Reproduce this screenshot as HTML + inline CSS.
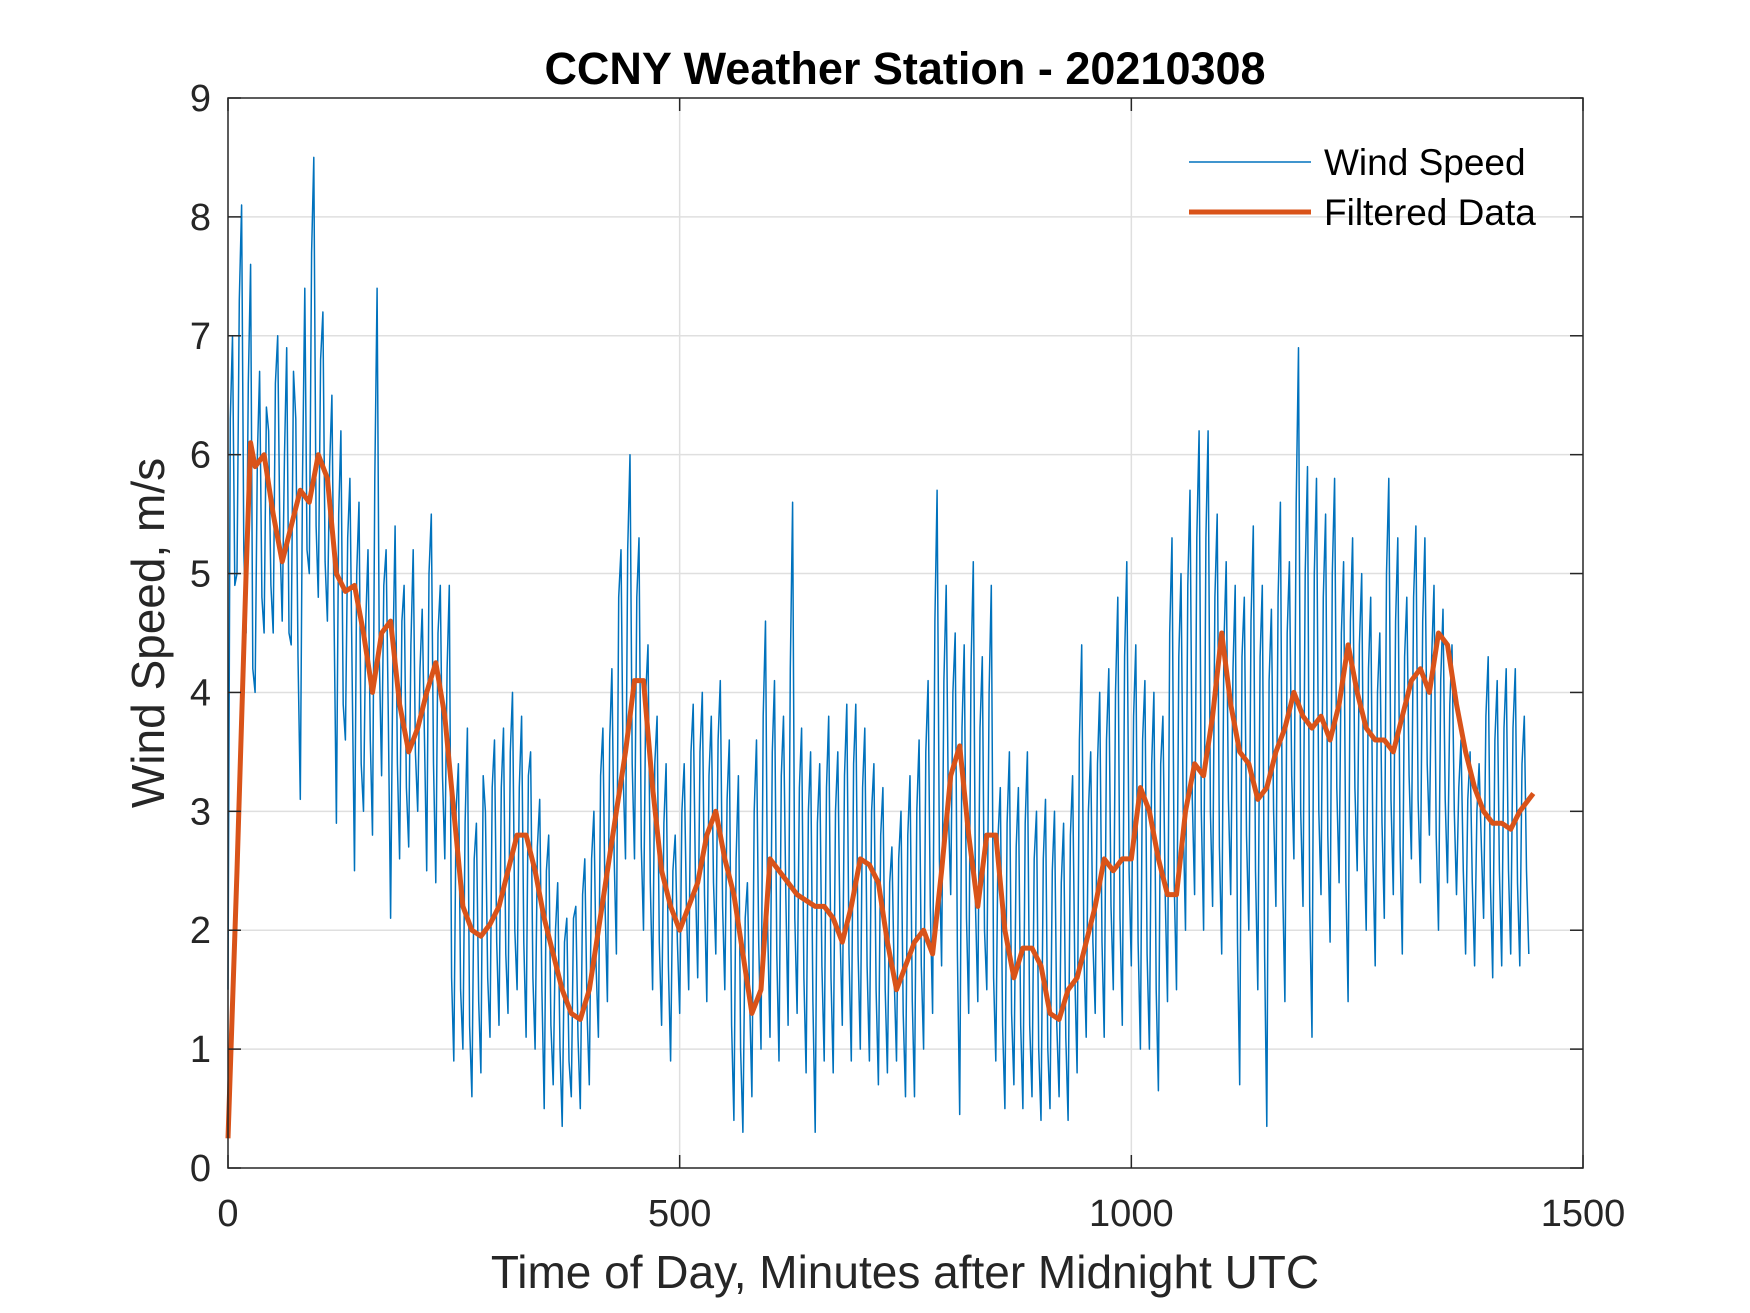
<!DOCTYPE html>
<html><head><meta charset="utf-8"><style>
html,body{margin:0;padding:0;background:#fff;}
svg{display:block;font-family:"Liberation Sans",Arial,sans-serif;}
</style></head><body>
<svg id="chart" width="1750" height="1313" viewBox="0 0 1750 1313" xmlns="http://www.w3.org/2000/svg">
<rect width="1750" height="1313" fill="#fff"/>
<g id="grid"></g>
<g id="series"></g>
<rect x="228" y="98" width="1355" height="1070" fill="none" stroke="#262626" stroke-width="1.5"/>
<g id="ticks"></g>
<text x="905" y="84" text-anchor="middle" font-size="45" font-weight="bold" fill="#000">CCNY Weather Station - 20210308</text>
<text x="905" y="1288" text-anchor="middle" font-size="46" fill="#262626">Time of Day, Minutes after Midnight UTC</text>
<text transform="translate(164,633) rotate(-90)" text-anchor="middle" font-size="46" fill="#262626">Wind Speed, m/s</text>
<g>
<line x1="1189" y1="162" x2="1311" y2="162" stroke="#0072BD" stroke-width="1.5"/>
<text x="1324" y="175" font-size="37" fill="#000">Wind Speed</text>
<line x1="1189" y1="212" x2="1311" y2="212" stroke="#D95319" stroke-width="5"/>
<text x="1324" y="225" font-size="37" fill="#000">Filtered Data</text>
</g>
</svg>
<script>
const xTicks = [0, 500, 1000, 1500];
const yTicks = [0, 1, 2, 3, 4, 5, 6, 7, 8, 9];
const rawStep = 2.5;
const rawValuesA = [
1.5,7.0,5.0,8.1,4.5,7.6,4.0,6.7,4.5,6.2,4.5,7.0,
4.6,6.9,4.4,6.3,3.1,7.4,5.0,8.5,4.8,7.2,4.6,6.5,
2.9,6.2,3.6,5.8,2.5,5.6,3.0,5.2,2.8,7.4,3.3,5.2,
2.1,5.4,2.6,4.9,2.7,5.2,3.0,4.7,2.5,5.5,2.4,4.9,
2.6,4.9,0.9,3.4,1.0,3.7,0.6,2.9,0.8,3.0,1.1,3.6,
1.2,3.7,1.3,4.0,1.5,3.8,1.1,3.5,1.0,3.1,0.5,2.8,
0.7,2.4,0.35,2.1,0.6,2.2,0.5,2.6,0.7,3.0,1.1,3.7,
1.4,4.2,1.8,5.2,2.6,6.0,2.6,5.3,2.0,4.4,1.5,3.8,
1.2,3.4,0.9,2.8,1.3,3.4,1.5,3.9,1.6,4.0,1.4,3.8,
1.8,4.1,1.5,3.6,0.4,3.3,0.3,2.4,0.6,3.6,1.0,4.6,
1.1,4.1,0.9,3.8,1.2,5.6,1.3,3.7,0.8,3.5,0.3,3.4,
0.9,3.8,0.8,3.5,1.2,3.9,0.9,3.9,1.0,3.7,0.9,3.4,
0.7,3.2,0.8,2.7,0.9,3.0,0.6,3.3,0.6,3.6,1.0,4.1,
1.3,5.7,1.7,4.9,2.3,4.5,0.45,4.4,1.3,5.1,1.4,4.3,
1.5,4.9,0.9,3.2,0.5,3.5,0.7,3.2,0.5,3.5,0.6,3.0,
0.4,3.1,0.5,3.0,0.6,2.9,0.4,3.3,0.8,4.4,1.1,3.5,
1.3,4.0,1.1,4.2,1.5,4.8,1.2,5.1,1.7,4.4,1.0,4.1,
1.0,4.0,0.65,3.8,1.4,5.3,1.5,5.0,2.0,5.7,2.3,6.2,
2.0,6.2,2.2,5.5,1.8,5.1,2.3,4.9,0.7,4.8,2.0,5.4,
1.5,4.9,0.35,4.7,2.2,5.6,1.4,5.1,2.6,6.9,2.2,5.9,
1.1,5.8,2.3,5.5,1.9,5.8,2.4,5.1,1.4,5.3,2.5,5.0,
2.0,4.8,1.7,4.5,2.1,5.8,2.3,5.3,1.8,4.8,2.6,5.4,
2.4,5.3,2.8,4.9,2.0,4.7,2.4,4.4,2.3,3.6,1.8,3.5,
1.7,3.4,2.1,4.3,1.6,4.1,1.7,4.2,1.8,4.2,1.7,3.8,1.8
];
const rawValuesB = [
6.3,4.9,7.3,5.2,6.6,4.2,6.0,4.8,6.4,4.9,6.6,5.3,
6.0,4.5,6.7,4.3,5.8,5.2,7.7,5.4,6.8,5.1,5.9,4.6,
5.5,3.9,5.3,4.1,5.0,3.4,4.6,3.6,5.8,4.3,4.9,3.8,
4.3,3.4,4.6,3.2,4.4,3.5,4.2,3.6,5.0,3.4,4.5,3.3,
4.2,1.6,3.0,1.5,2.9,1.2,2.6,1.4,3.3,1.6,3.2,1.9,
3.2,1.8,3.5,2.0,3.2,1.9,3.3,1.6,2.7,1.5,2.5,1.2,
2.0,1.0,1.9,0.9,2.1,1.1,2.3,1.3,2.6,1.7,3.3,2.2,
3.6,2.6,4.8,3.3,5.2,3.4,4.8,2.7,4.0,2.4,3.4,1.9,
2.9,1.7,2.5,1.9,3.0,2.2,3.5,2.4,3.5,2.3,3.3,2.4,
3.6,2.2,3.1,1.2,2.6,1.0,2.1,1.4,3.0,1.9,3.8,2.0,
3.5,1.8,3.3,2.3,4.2,2.1,3.2,1.6,3.0,1.4,2.9,1.7,
3.2,1.6,3.0,2.0,3.3,1.8,3.4,1.8,3.2,1.7,3.0,1.5,
2.8,1.5,2.4,1.6,2.6,1.3,2.8,1.4,3.0,1.7,3.5,2.2,
4.6,2.6,4.1,3.0,4.0,1.8,3.7,2.1,4.2,2.2,3.7,2.0,
4.0,1.6,2.8,1.2,2.9,1.3,2.7,1.2,2.9,1.2,2.6,1.0,
2.6,1.0,2.5,1.2,2.4,1.1,2.8,1.6,3.6,1.8,3.0,1.9,
3.4,1.9,3.6,2.2,4.0,2.1,4.3,2.5,3.8,1.9,3.6,1.8,
3.4,1.5,3.4,2.3,4.5,2.4,4.3,2.9,4.9,3.1,5.3,3.0,
5.3,3.0,4.8,2.7,4.4,3.1,4.2,1.9,4.3,2.8,4.6,2.5,
4.3,1.8,4.1,3.0,4.8,2.4,4.5,3.3,5.6,3.0,5.0,2.2,
5.0,3.0,4.8,2.8,5.0,3.2,4.5,2.4,4.6,3.2,4.4,2.8,
4.2,2.6,4.0,2.9,5.0,3.1,4.6,2.7,4.3,3.3,4.8,3.1,
4.6,3.4,4.3,2.8,4.1,3.1,3.9,3.0,3.2,2.5,3.1,2.4,
3.0,2.7,3.8,2.4,3.6,2.5,3.7,2.5,3.7,2.4,3.4,2.5
];
const filtMinutes = [0,10,20,25,30,40,50,60,70,80,90,100,110,120,130,140,150,160,170,180,190,200,210,220,230,240,250,260,270,280,290,300,310,320,330,340,350,360,370,380,390,400,410,420,430,440,450,460,470,480,490,500,510,520,530,540,550,560,570,580,590,600,610,620,630,640,650,660,670,680,690,700,710,720,730,740,750,760,770,780,790,800,810,820,830,840,850,860,870,880,890,900,910,920,930,940,950,960,970,980,990,1000,1010,1020,1030,1040,1050,1060,1070,1080,1090,1100,1110,1120,1130,1140,1150,1160,1170,1180,1190,1200,1210,1220,1230,1240,1250,1260,1270,1280,1290,1300,1310,1320,1330,1340,1350,1360,1370,1380,1390,1400,1410,1420,1430,1440,1445];
const filtValues = [0.25,2.5,5.0,6.1,5.9,6.0,5.5,5.1,5.4,5.7,5.6,6.0,5.8,5.0,4.85,4.9,4.5,4.0,4.5,4.6,3.9,3.5,3.7,4.0,4.25,3.8,3.0,2.2,2.0,1.95,2.05,2.2,2.5,2.8,2.8,2.5,2.1,1.8,1.5,1.3,1.25,1.5,2.0,2.5,3.0,3.5,4.1,4.1,3.2,2.5,2.2,2.0,2.2,2.4,2.8,3.0,2.6,2.3,1.8,1.3,1.5,2.6,2.5,2.4,2.3,2.25,2.2,2.2,2.1,1.9,2.2,2.6,2.55,2.4,1.9,1.5,1.7,1.9,2.0,1.8,2.5,3.3,3.55,2.8,2.2,2.8,2.8,2.0,1.6,1.85,1.85,1.7,1.3,1.25,1.5,1.6,1.9,2.2,2.6,2.5,2.6,2.6,3.2,3.0,2.6,2.3,2.3,3.0,3.4,3.3,3.8,4.5,3.9,3.5,3.4,3.1,3.2,3.5,3.7,4.0,3.8,3.7,3.8,3.6,3.9,4.4,4.0,3.7,3.6,3.6,3.5,3.8,4.1,4.2,4.0,4.5,4.4,3.9,3.5,3.2,3.0,2.9,2.9,2.85,3.0,3.1,3.15];

const NS = "http://www.w3.org/2000/svg";
const X0 = 228, X1 = 1583, Y0 = 1168, Y1 = 98;
const xScale = v => X0 + (v - 0) / 1500 * (X1 - X0);
const yScale = v => Y0 - (v - 0) / 9 * (Y0 - Y1);
function mk(tag, attrs, parent) {
  const e = document.createElementNS(NS, tag);
  for (const k in attrs) e.setAttribute(k, attrs[k]);
  parent.appendChild(e);
  return e;
}
const grid = document.getElementById('grid');
const ticks = document.getElementById('ticks');
const series = document.getElementById('series');

xTicks.forEach(t => {
  const x = xScale(t);
  if (t > 0 && t < 1500) {
    const g = mk('line', {x1:x, y1:Y1, x2:x, y2:Y0, stroke:'#dfdfdf', 'stroke-width':1.5}, grid);
    
    
  }
  const a = mk('line', {x1:x, y1:Y0, x2:x, y2:Y0-13, stroke:'#262626', 'stroke-width':1.5}, ticks);
  
  
  const b = mk('line', {x1:x, y1:Y1, x2:x, y2:Y1+13, stroke:'#262626', 'stroke-width':1.5}, ticks);
  
  
  const l = mk('text', {x:x, y:Y0+58, 'text-anchor':'middle', 'font-size':38, fill:'#262626'}, ticks);
  l.textContent = t;
  
  
});
yTicks.forEach(t => {
  const y = yScale(t);
  if (t > 0 && t < 9) {
    const g = mk('line', {x1:X0, y1:y, x2:X1, y2:y, stroke:'#dfdfdf', 'stroke-width':1.5}, grid);
    
    
  }
  const a = mk('line', {x1:X0, y1:y, x2:X0+13, y2:y, stroke:'#262626', 'stroke-width':1.5}, ticks);
  
  
  const b = mk('line', {x1:X1, y1:y, x2:X1-13, y2:y, stroke:'#262626', 'stroke-width':1.5}, ticks);
  
  
  const l = mk('text', {x:X0-17, y:y+13, 'text-anchor':'end', 'font-size':38, fill:'#262626'}, ticks);
  l.textContent = t;
  
  
});

const rawValues = [];
rawValuesA.forEach((v, i) => { rawValues.push(v); if (i < rawValuesB.length) rawValues.push(rawValuesB[i]); });
const rawPts = rawValues.map((v, i) => xScale(i * rawStep).toFixed(1) + ',' + yScale(v).toFixed(1)).join(' ');
const raw = mk('polyline', {points: rawPts, fill:'none', stroke:'#0072BD', 'stroke-width':1.5, 'stroke-linejoin':'round'}, series);



const filtPts = filtValues.map((v, i) => xScale(filtMinutes[i]).toFixed(1) + ',' + yScale(v).toFixed(1)).join(' ');
const filt = mk('polyline', {points: filtPts, fill:'none', stroke:'#D95319', 'stroke-width':5, 'stroke-linejoin':'round'}, series);


</script>
</body></html>
